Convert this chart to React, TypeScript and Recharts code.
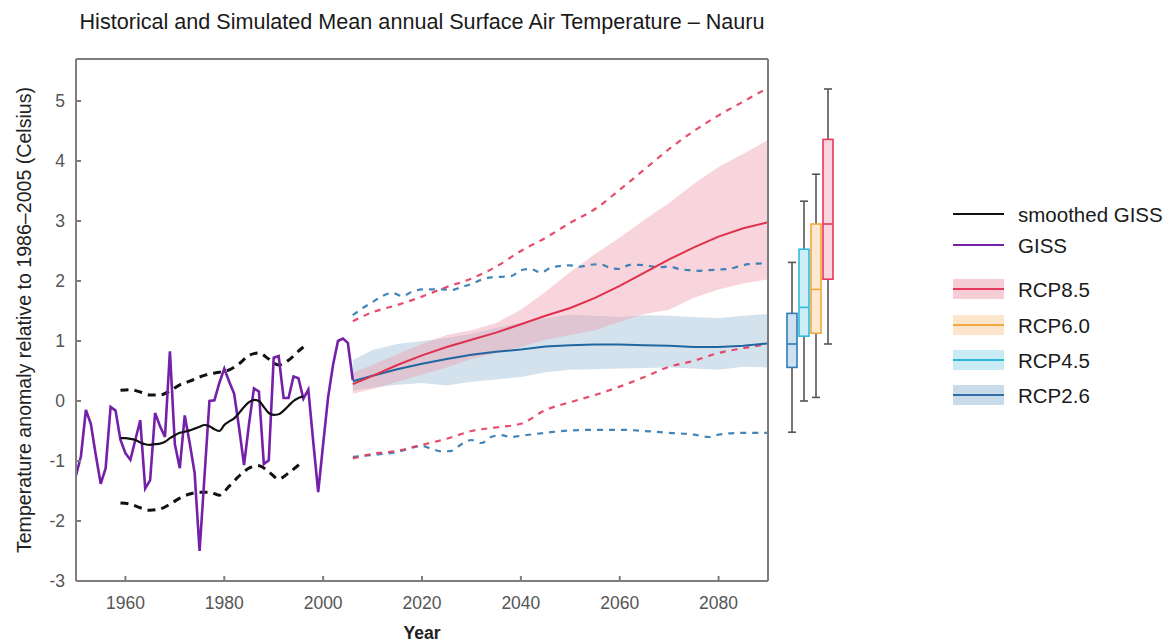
import React from 'react';
import { ComposedChart, Line, Area, Bar, XAxis, YAxis } from 'recharts';

// observed GISS annual anomalies
const gissYears = [
    1950, 1951, 1952, 1953, 1954, 1955, 1956, 1957, 1958, 1959,
    1960, 1961, 1962, 1963, 1964, 1965, 1966, 1967, 1968, 1969,
    1970, 1971, 1972, 1973, 1974, 1975, 1976, 1977, 1978, 1979,
    1980, 1981, 1982, 1983, 1984, 1985, 1986, 1987, 1988, 1989,
    1990, 1991, 1992, 1993, 1994, 1995, 1996, 1997, 1998, 1999,
    2000, 2001, 2002, 2003, 2004, 2005, 2006
];
const gissValues = [
    -1.24, -0.92, -0.15, -0.38, -0.9, -1.38, -1.12, -0.1, -0.16, -0.65,
    -0.87, -0.98, -0.65, -0.32, -1.46, -1.32, -0.2, -0.42, -0.6, 0.83,
    -0.72, -1.12, -0.24, -0.7, -1.2, -2.5, -1.25, 0.0, 0.01, 0.3,
    0.54, 0.32, 0.12, -0.45, -1.07, -0.38, 0.21, 0.16, -1.05, -0.99,
    0.72, 0.75, 0.05, 0.05, 0.41, 0.38, 0.04, 0.19, -0.68, -1.52,
    -0.72, 0.06, 0.6, 1.0, 1.04, 0.97, 0.35
];

// smoothed GISS
const smoothYears = [
    1959, 1960, 1961, 1962, 1963, 1964, 1965, 1966, 1967, 1968,
    1969, 1970, 1971, 1972, 1973, 1974, 1975, 1976, 1977, 1978,
    1979, 1980, 1981, 1982, 1983, 1984, 1985, 1986, 1987, 1988,
    1989, 1990, 1991, 1992, 1993, 1994, 1995, 1996
];
const smoothValues = [
    -0.62, -0.62, -0.63, -0.65, -0.69, -0.72, -0.73, -0.72, -0.71, -0.68,
    -0.62, -0.57, -0.53, -0.51, -0.49, -0.46, -0.43, -0.4, -0.42, -0.47,
    -0.5, -0.4, -0.34, -0.29, -0.2, -0.1, -0.02, 0.02, 0.0, -0.1,
    -0.2, -0.23, -0.22, -0.16, -0.08, 0.0, 0.05, 0.08
];

// observed variability envelope (black dashed)
const envYears = [1959, 1961, 1963, 1965, 1967, 1969, 1971, 1973, 1975, 1977, 1979, 1981, 1983, 1985, 1987, 1989, 1991, 1993, 1995, 1996];
const envUpper = [0.18, 0.19, 0.15, 0.1, 0.1, 0.17, 0.27, 0.33, 0.4, 0.45, 0.48, 0.52, 0.62, 0.76, 0.8, 0.7, 0.6, 0.68, 0.83, 0.9];
const envLower = [-1.7, -1.72, -1.78, -1.82, -1.8, -1.72, -1.62, -1.55, -1.52, -1.52, -1.57, -1.42, -1.25, -1.12, -1.08, -1.18, -1.3, -1.2, -1.07, -1.0];

// projections
const projYears = [2006, 2010, 2015, 2020, 2025, 2030, 2035, 2040, 2045, 2050, 2055, 2060, 2065, 2070, 2075, 2080, 2085, 2090];
const rcp85Mean = [0.28, 0.42, 0.6, 0.76, 0.9, 1.02, 1.14, 1.28, 1.42, 1.55, 1.72, 1.92, 2.14, 2.36, 2.56, 2.74, 2.88, 2.98];
const rcp85Low = [0.12, 0.2, 0.32, 0.44, 0.56, 0.7, 0.8, 0.9, 1.02, 1.1, 1.18, 1.32, 1.45, 1.52, 1.72, 1.86, 1.96, 2.03];
const rcp85High = [0.47, 0.6, 0.78, 0.95, 1.1, 1.18, 1.3, 1.52, 1.82, 2.15, 2.45, 2.72, 3.02, 3.3, 3.62, 3.9, 4.12, 4.35];
const rcp85DashHigh = [1.33, 1.48, 1.6, 1.74, 1.9, 2.04, 2.24, 2.5, 2.72, 2.97, 3.2, 3.52, 3.86, 4.2, 4.5, 4.76, 4.99, 5.22];
const rcp85DashLow = [-0.96, -0.88, -0.83, -0.73, -0.63, -0.5, -0.44, -0.38, -0.15, -0.02, 0.1, 0.24, 0.4, 0.57, 0.67, 0.8, 0.88, 0.95];

const rcp26Mean = [0.33, 0.42, 0.53, 0.62, 0.7, 0.77, 0.82, 0.86, 0.91, 0.93, 0.94, 0.94, 0.93, 0.92, 0.9, 0.9, 0.92, 0.96];
const rcp26Low = [0.18, 0.22, 0.27, 0.3, 0.26, 0.32, 0.36, 0.4, 0.48, 0.52, 0.53, 0.54, 0.55, 0.56, 0.54, 0.52, 0.57, 0.56];
const rcp26High = [0.68, 0.85, 0.95, 1.0, 1.05, 1.12, 1.22, 1.3, 1.38, 1.44, 1.42, 1.4, 1.43, 1.42, 1.4, 1.38, 1.42, 1.45];

const rcp26UpYears = [
    2006, 2008, 2010, 2012, 2014, 2016, 2018, 2020, 2022, 2024, 2026, 2028, 2030, 2032, 2034,
    2036, 2038, 2040, 2042, 2044, 2046, 2048, 2050, 2052, 2054, 2056, 2058, 2060, 2062, 2064,
    2066, 2068, 2070, 2072, 2074, 2076, 2078, 2080, 2082, 2084, 2086, 2088, 2090
];
const rcp26DashHigh = [
    1.43, 1.55, 1.65, 1.75, 1.8, 1.75, 1.82, 1.86, 1.86, 1.86, 1.85, 1.9, 1.95, 2.02, 2.06,
    2.07, 2.08, 2.18, 2.2, 2.14, 2.22, 2.25, 2.26, 2.24, 2.27, 2.28, 2.22, 2.2, 2.27, 2.27,
    2.25, 2.23, 2.24, 2.2, 2.18, 2.17, 2.18, 2.19, 2.2, 2.24, 2.28, 2.29, 2.3
];
const rcp26LowYears = [2006, 2010, 2015, 2020, 2022, 2024, 2026, 2028, 2030, 2032, 2034, 2036, 2038, 2040, 2045, 2050, 2055, 2060, 2065, 2070, 2075, 2078, 2080, 2085, 2090];
const rcp26DashLow = [-0.93, -0.9, -0.85, -0.75, -0.8, -0.84, -0.83, -0.72, -0.65, -0.7, -0.6, -0.57, -0.6, -0.58, -0.53, -0.49, -0.48, -0.48, -0.5, -0.53, -0.56, -0.6, -0.56, -0.53, -0.53];

// end-of-century box plots
const scenarios = ['RCP2.6', 'RCP4.5', 'RCP6.0', 'RCP8.5'];
const boxMin = [-0.52, 0.0, 0.06, 0.95];
const boxQ1 = [0.56, 1.08, 1.13, 2.03];
const boxMedian = [0.95, 1.56, 1.86, 2.95];
const boxQ3 = [1.46, 2.53, 2.95, 4.36];
const boxMax = [2.31, 3.33, 3.78, 5.2];

const xTicks = [1960, 1980, 2000, 2020, 2040, 2060, 2080];
const yTicks = [-3, -2, -1, 0, 1, 2, 3, 4, 5];

const boxStroke = ['#2f7cb8', '#33b9dc', '#f4a640', '#e6385c'];
const boxFill = ['#cfe0ee', '#cdeef7', '#fde8d0', '#f9d6dd'];

const FONT = '"Liberation Sans", Arial, Helvetica, sans-serif';
const AXIS = '#7d7d7d';

const zip = (xs: number[], ys: number[]) => xs.map((x, i) => ({ year: x, v: ys[i] }));
const band = (xs: number[], lo: number[], hi: number[]) => xs.map((x, i) => ({ year: x, range: [lo[i], hi[i]] }));

const giss = zip(gissYears, gissValues);
const smooth = zip(smoothYears, smoothValues);
const envHi = zip(envYears, envUpper);
const envLo = zip(envYears, envLower);
const band85 = band(projYears, rcp85Low, rcp85High);
const band26 = band(projYears, rcp26Low, rcp26High);
const mean85 = zip(projYears, rcp85Mean);
const mean26 = zip(projYears, rcp26Mean);
const dash85Hi = zip(projYears, rcp85DashHigh);
const dash85Lo = zip(projYears, rcp85DashLow);
const dash26Hi = zip(rcp26UpYears, rcp26DashHigh);
const dash26Lo = zip(rcp26LowYears, rcp26DashLow);

const boxData = scenarios.map((name, i) => ({
    name,
    range: [boxMin[i], boxMax[i]],
    min: boxMin[i],
    q1: boxQ1[i],
    median: boxMedian[i],
    q3: boxQ3[i],
    max: boxMax[i]
}));

const BoxShape = (props: any) => {
    const { x, y, width, height, payload, index } = props;
    const top = Math.min(y, y + height);
    const bottom = Math.max(y, y + height);
    const px = (v: number) => bottom - ((v - payload.min) / (payload.max - payload.min)) * (bottom - top);
    const cx = x + width / 2;
    const cap = 4;
    return (
        <g>
            <line x1={cx} x2={cx} y1={px(payload.max)} y2={px(payload.q3)} stroke="#555" strokeWidth={1.6} />
            <line x1={cx} x2={cx} y1={px(payload.q1)} y2={px(payload.min)} stroke="#555" strokeWidth={1.6} />
            <line x1={cx - cap} x2={cx + cap} y1={px(payload.max)} y2={px(payload.max)} stroke="#555" strokeWidth={1.6} />
            <line x1={cx - cap} x2={cx + cap} y1={px(payload.min)} y2={px(payload.min)} stroke="#555" strokeWidth={1.6} />
            <rect
                x={x}
                y={px(payload.q3)}
                width={width}
                height={px(payload.q1) - px(payload.q3)}
                fill={boxFill[index]}
                stroke={boxStroke[index]}
                strokeWidth={1.6}
            />
            <line x1={x} x2={x + width} y1={px(payload.median)} y2={px(payload.median)} stroke={boxStroke[index]} strokeWidth={1.6} />
        </g>
    );
};

const legendItems = [
    { label: 'smoothed GISS', color: '#111', band: null, y: 214 },
    { label: 'GISS', color: '#7420a8', band: null, y: 245 },
    { label: 'RCP8.5', color: '#e6385c', band: '#f7cdd5', y: 289 },
    { label: 'RCP6.0', color: '#f4a640', band: '#fce5cd', y: 325 },
    { label: 'RCP4.5', color: '#2fb8dc', band: '#c9ebf5', y: 360 },
    { label: 'RCP2.6', color: '#2f6fa6', band: '#c9dbe9', y: 395 }
];

export default function App() {
    const dashProps = { dot: false, activeDot: false, isAnimationActive: false, type: 'monotone' as const };
    return (
        <div style={{ position: 'absolute', left: 0, top: 0, width: 1174, height: 644, background: '#fff', fontFamily: FONT, overflow: 'hidden' }}>
            <div style={{ position: 'absolute', left: 0, top: 10, width: 844, textAlign: 'center', fontSize: 21.6, lineHeight: '24px', color: '#1a1a1a', whiteSpace: 'nowrap' }}>
                Historical and Simulated Mean annual Surface Air Temperature – Nauru
            </div>
            <div
                style={{
                    position: 'absolute',
                    left: 24,
                    top: 320,
                    transform: 'translate(-50%, -50%) rotate(-90deg)',
                    fontSize: 19.6,
                    color: '#222',
                    whiteSpace: 'nowrap'
                }}
            >
                Temperature anomaly relative to 1986–2005 (Celsius)
            </div>
            <div style={{ position: 'absolute', left: 0, top: 623, width: 844, textAlign: 'center', fontSize: 17.5, lineHeight: '20px', fontWeight: 'bold', color: '#222' }}>
                Year
            </div>

            <div style={{ position: 'absolute', left: 0, top: 0 }}>
                <ComposedChart width={780} height={644} margin={{ top: 58, right: 11, bottom: 62, left: 75 }}>
                    <XAxis
                        dataKey="year"
                        type="number"
                        domain={[1950, 2090]}
                        allowDataOverflow
                        ticks={xTicks}
                        height={1}
                        tickSize={-5}
                        tickMargin={21}
                        stroke={AXIS}
                        strokeWidth={2}
                        tick={{ fill: '#555', fontSize: 17.5, fontFamily: FONT }}
                    />
                    <XAxis
                        xAxisId="top"
                        orientation="top"
                        dataKey="year"
                        type="number"
                        domain={[1950, 2090]}
                        allowDataOverflow
                        ticks={xTicks}
                        height={1}
                        tickSize={-5}
                        tick={false}
                        stroke={AXIS}
                        strokeWidth={2}
                    />
                    <YAxis
                        type="number"
                        domain={[-3, 5.7]}
                        allowDataOverflow
                        ticks={yTicks}
                        width={1}
                        tickSize={-5}
                        tickMargin={16}
                        stroke={AXIS}
                        strokeWidth={2}
                        tick={{ fill: '#555', fontSize: 17.5, fontFamily: FONT }}
                    />
                    <YAxis
                        yAxisId="right"
                        orientation="right"
                        type="number"
                        domain={[-3, 5.7]}
                        allowDataOverflow
                        ticks={yTicks}
                        width={1}
                        tickSize={-5}
                        tick={false}
                        stroke={AXIS}
                        strokeWidth={2}
                    />

                    {/* model ranges */}
                    <Area data={band26} dataKey="range" type="linear" stroke="none" fill="#a9c6dc" fillOpacity={0.5} isAnimationActive={false} />
                    <Area data={band85} dataKey="range" type="linear" stroke="none" fill="#ef9aab" fillOpacity={0.42} isAnimationActive={false} />

                    {/* observations */}
                    <Line data={envHi} dataKey="v" stroke="#111" strokeWidth={3} strokeDasharray="8 6" {...dashProps} />
                    <Line data={envLo} dataKey="v" stroke="#111" strokeWidth={3} strokeDasharray="8 6" {...dashProps} />
                    <Line data={giss} dataKey="v" type="linear" stroke="#7420a8" strokeWidth={2.6} dot={false} activeDot={false} isAnimationActive={false} />
                    <Line data={smooth} dataKey="v" type="monotone" stroke="#111" strokeWidth={2.2} dot={false} activeDot={false} isAnimationActive={false} />

                    {/* projections */}
                    <Line data={dash26Hi} dataKey="v" stroke="#2f78b0" strokeOpacity={0.9} strokeWidth={2.2} strokeDasharray="6 6" {...dashProps} />
                    <Line data={dash26Lo} dataKey="v" stroke="#2f78b0" strokeOpacity={0.9} strokeWidth={2.2} strokeDasharray="6 6" {...dashProps} />
                    <Line data={dash85Hi} dataKey="v" stroke="#e6385c" strokeOpacity={0.9} strokeWidth={2.2} strokeDasharray="6 6" {...dashProps} />
                    <Line data={dash85Lo} dataKey="v" stroke="#e6385c" strokeOpacity={0.9} strokeWidth={2.2} strokeDasharray="6 6" {...dashProps} />
                    <Line data={mean26} dataKey="v" type="linear" stroke="#1f67a0" strokeWidth={2} dot={false} activeDot={false} isAnimationActive={false} />
                    <Line data={mean85} dataKey="v" type="linear" stroke="#e0304e" strokeWidth={2} dot={false} activeDot={false} isAnimationActive={false} />
                </ComposedChart>
            </div>

            <div style={{ position: 'absolute', left: 786, top: 0 }}>
                <ComposedChart width={48} height={644} data={boxData} margin={{ top: 59, right: 0, bottom: 63, left: 0 }} barCategoryGap={0}>
                    <XAxis dataKey="name" type="category" hide height={0} />
                    <YAxis type="number" domain={[-3, 5.7]} allowDataOverflow hide width={0} />
                    <Bar dataKey="range" barSize={10} shape={<BoxShape />} isAnimationActive={false} />
                </ComposedChart>
            </div>

            <svg style={{ position: 'absolute', left: 0, top: 0 }} width={1174} height={644}>
                {legendItems.map(item => (
                    <g key={item.label}>
                        {item.band && <rect x={953} y={item.y - 10} width={51} height={20} fill={item.band} />}
                        <line x1={953} x2={1004} y1={item.y} y2={item.y} stroke={item.color} strokeWidth={2.2} />
                        <text x={1018} y={item.y} dominantBaseline="central" fontSize={20.5} fontFamily={FONT} fill="#1a1a1a">
                            {item.label}
                        </text>
                    </g>
                ))}
            </svg>
        </div>
    );
}
